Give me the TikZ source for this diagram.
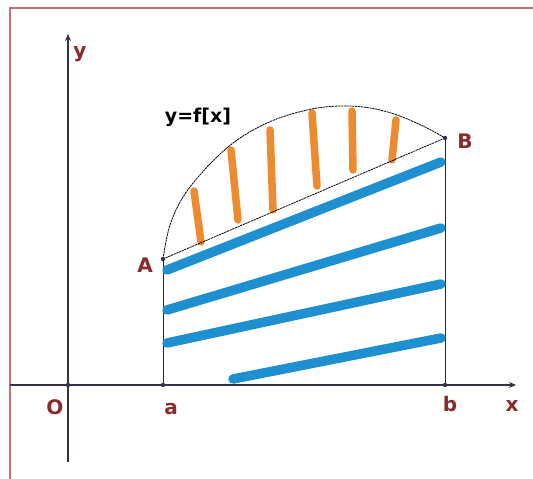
\documentclass[tikz,border=0pt]{standalone}
\usepackage{fontspec}
\setmainfont{DejaVu Sans}
\usetikzlibrary{arrows.meta}
\definecolor{lbl}{HTML}{8B2A2A}
\definecolor{axc}{HTML}{3A3048}
\definecolor{blu}{HTML}{1E8FCF}
\definecolor{org}{HTML}{EE8A30}
\definecolor{frm}{HTML}{C87070}
\begin{document}
\begin{tikzpicture}[x=1pt,y=-1pt,
  axis/.style={draw=axc, line width=1.1pt, -{Stealth[length=7pt,width=6pt]}},
  edge/.style={draw=black!85, line width=1pt},
  curv/.style={draw=black, line width=0.8pt, dash pattern=on 2.2pt off 0.7pt},
  bluestroke/.style={draw=blu, line width=9.5pt, line cap=round},
  orangestroke/.style={draw=org, line width=7.5pt, line cap=round},
  lab/.style={text=lbl, font=\bfseries\fontsize{20}{22}\selectfont, inner sep=0pt},
  dot/.style={circle, fill=axc, inner sep=0pt, minimum size=4.5pt}]
\useasboundingbox (0,0) rectangle (533,479);
\fill[white] (0,0) rectangle (533,479);
\draw[frm, line width=1.5pt] (10,479) -- (10,8) -- (533,8);

% points
\coordinate (O) at (68,385);
\coordinate (pa) at (163,385);
\coordinate (pb) at (445,385);
\coordinate (pA) at (163,259);
\coordinate (pB) at (445,138);
\coordinate (xs) at (10,385);
\coordinate (xe) at (516,385);
\coordinate (ys) at (68,462);
\coordinate (ye) at (68,34);

% axes
\draw[axis] (xs) -- (xe);
\draw[axis] (ys) -- (ye);

% verticals
\draw[edge] (pa) -- (pA);
\draw[edge] (pb) -- (pB);

% blue strokes
\coordinate (b1s) at (167,270); \coordinate (b1e) at (441,162);
\coordinate (b2s) at (167,310); \coordinate (b2e) at (441,228);
\coordinate (b3s) at (167,343); \coordinate (b3e) at (441,284);
\coordinate (b4s) at (233,379); \coordinate (b4e) at (441,338);
\draw[bluestroke] (b1s) -- (b1e);
\draw[bluestroke] (b2s) -- (b2e);
\draw[bluestroke] (b3s) -- (b3e);
\draw[bluestroke] (b4s) -- (b4e);

% orange strokes
\coordinate (o1s) at (194,191); \coordinate (o1e) at (201,242);
\coordinate (o2s) at (231,150); \coordinate (o2e) at (238,220);
\coordinate (o3s) at (270,130); \coordinate (o3e) at (273,210);
\coordinate (o4s) at (312,113); \coordinate (o4e) at (317,186);
\coordinate (o5s) at (352,111); \coordinate (o5e) at (353,170);
\coordinate (o6s) at (396,120); \coordinate (o6e) at (392,160);
\draw[orangestroke] (o1s) -- (o1e);
\draw[orangestroke] (o2s) -- (o2e);
\draw[orangestroke] (o3s) -- (o3e);
\draw[orangestroke] (o4s) -- (o4e);
\draw[orangestroke] (o5s) -- (o5e);
\draw[orangestroke] (o6s) -- (o6e);

% curve and chord
\draw[curv] plot[smooth, tension=0.6] coordinates
  {(163,259) (171,222) (190,187) (228,147) (267,123) (307,110) (340,106) (370,108) (397,115) (425,127) (445,138)};
\draw[curv] (pA) -- (pB);

% dots
\node[dot] (dO) at (O) {};
\node[dot] (da) at (pa) {};
\node[dot] (db) at (pb) {};
\node[dot] (dA) at (pA) {};
\node[dot] (dB) at (pB) {};

% labels
\node[lab] (ly) at (80,54) {y};
\node[lab] (lx) at (512,406) {x};
\node[lab] (lO) at (55,407) {O};
\node[lab] (la) at (171,409) {a};
\node[lab] (lb) at (450,404) {b};
\node[lab] (lA) at (145,265) {A};
\node[lab] (lB) at (465,141) {B};
\node[inner sep=0pt, font=\bfseries\fontsize{19}{21}\selectfont] (lf) at (198,117) {y=f[x]};
\end{tikzpicture}
\end{document}
